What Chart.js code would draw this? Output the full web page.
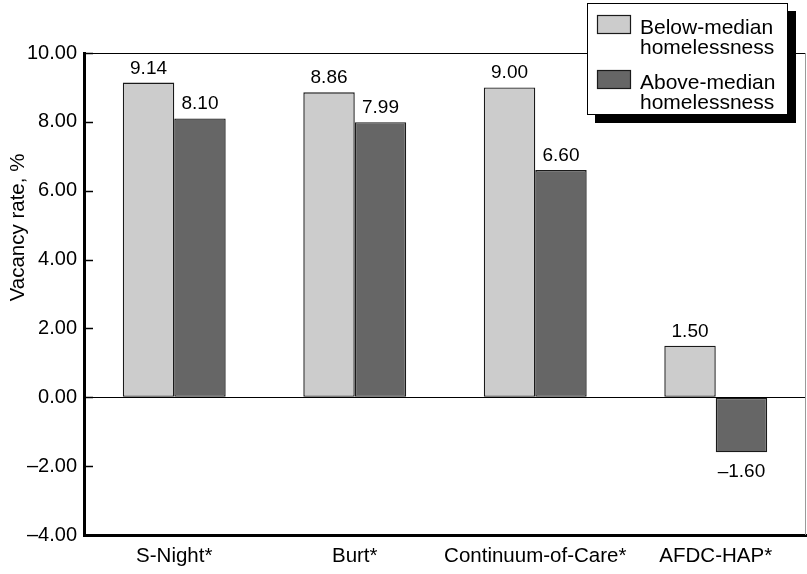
<!DOCTYPE html>
<html><head><meta charset="utf-8">
<script src="https://cdn.jsdelivr.net/npm/chart.js@4"></script>
<style>html,body{margin:0;padding:0;background:#fff}#wrap{width:807px;height:574px}</style>
</head><body><div id="wrap"><canvas id="c" width="807" height="574"></canvas></div>
<script>
const categories = ["S-Night*", "Burt*", "Continuum-of-Care*", "AFDC-HAP*"];
const belowMedian = [9.14, 8.86, 9.00, 1.50];
const aboveMedian = [8.10, 7.99, 6.60, -1.60];
const seriesNames = [["Below-median", "homelessness"], ["Above-median", "homelessness"]];
const yTicks = [-4, -2, 0, 2, 4, 6, 8, 10];
const yTitle = "Vacancy rate, %";

const FONT = "'Liberation Sans', Arial, Helvetica, sans-serif";
const LIGHT = "#cccccc", DARK = "#666666", EDGE = "#1a1a1a";
Chart.defaults.font.family = FONT;
Chart.defaults.color = "#000";

function fmt(v) { return (v < 0 ? "\u2013" : "") + Math.abs(v).toFixed(2); }

const extras = {
  id: "extras",
  afterDraw(chart) {
    const ctx = chart.ctx, a = chart.chartArea, ys = chart.scales.y;
    ctx.save();
    // top and right frame
    ctx.strokeStyle = "#000"; ctx.lineWidth = 1;
    ctx.beginPath(); ctx.moveTo(a.left, a.top + 0.5); ctx.lineTo(a.right, a.top + 0.5); ctx.stroke();
    ctx.strokeStyle = "#9a9a9a";
    ctx.beginPath(); ctx.moveTo(a.right - 0.5, a.top); ctx.lineTo(a.right - 0.5, a.bottom); ctx.stroke();
    // inward ticks
    ctx.strokeStyle = "#000"; ctx.lineWidth = 1.5;
    yTicks.forEach(v => {
      const y = Math.round(ys.getPixelForValue(v)) + 0.5;
      ctx.beginPath(); ctx.moveTo(a.left, y); ctx.lineTo(a.left + 9, y); ctx.stroke();
    });
    // value labels
    ctx.fillStyle = "#000"; ctx.font = "19px " + FONT; ctx.textAlign = "center";
    chart.data.datasets.forEach((ds, di) => {
      chart.getDatasetMeta(di).data.forEach((bar, i) => {
        const v = ds.data[i];
        if (v >= 0) { ctx.textBaseline = "alphabetic"; ctx.fillText(fmt(v), bar.x, bar.y - 9); }
        else { ctx.textBaseline = "top"; ctx.fillText(fmt(v), bar.x, bar.y + 10); }
      });
    });
    // y title
    ctx.save();
    ctx.translate(18, a.top + (a.bottom - a.top) * 0.362);
    ctx.rotate(-Math.PI / 2);
    ctx.textAlign = "center"; ctx.textBaseline = "middle"; ctx.font = "20.5px " + FONT;
    ctx.fillText(yTitle, 0, 0);
    ctx.restore();
    // legend
    const lx = 587, ly = 3, lw = 201, lh = 112;
    ctx.fillStyle = "#000"; ctx.fillRect(lx + 8, ly + 8, lw, lh);
    ctx.fillStyle = "#fff"; ctx.fillRect(lx, ly, lw, lh);
    ctx.strokeStyle = "#000"; ctx.lineWidth = 1;
    ctx.strokeRect(lx + 0.5, ly + 0.5, lw - 1, lh - 1);
    ctx.font = "21px " + FONT; ctx.textAlign = "left"; ctx.textBaseline = "alphabetic";
    chart.data.datasets.forEach((ds, di) => {
      const top = ly + 12 + di * 55;
      ctx.fillStyle = ds.backgroundColor; ctx.fillRect(lx + 10, top, 34, 19);
      ctx.strokeStyle = EDGE; ctx.lineWidth = 1.2; ctx.strokeRect(lx + 10.5, top + 0.5, 33, 18);
      ctx.fillStyle = "#000";
      seriesNames[di].forEach((line, li) => ctx.fillText(line, lx + 53, top + 19 + li * 20));
    });
    ctx.restore();
  }
};

new Chart(document.getElementById("c"), {
  type: "bar",
  data: {
    labels: categories,
    datasets: [
      { label: seriesNames[0].join(" "), data: belowMedian, backgroundColor: LIGHT, borderColor: EDGE, borderWidth: 1.4, borderSkipped: false },
      { label: seriesNames[1].join(" "), data: aboveMedian, backgroundColor: DARK, borderColor: EDGE, borderWidth: 1.4, borderSkipped: false }
    ]
  },
  options: {
    responsive: false,
    devicePixelRatio: 1,
    animation: false,
    categoryPercentage: 0.57,
    barPercentage: 1.0,
    layout: { padding: { top: 53, right: 1, left: 0, bottom: 0 } },
    plugins: { legend: { display: false }, tooltip: { enabled: false } },
    scales: {
      x: {
        grid: { display: false, drawTicks: false },
        border: { display: true, color: "#000", width: 3 },
        ticks: { color: "#000", font: { size: 20.5 }, padding: 9, maxRotation: 0, autoSkip: false },
        afterFit: s => { s.height = 39; }
      },
      y: {
        min: -4, max: 10,
        afterBuildTicks: s => { s.ticks = yTicks.map(v => ({ value: v })); },
        ticks: { callback: v => fmt(v), color: "#000", font: { size: 20 }, padding: 7 },
        grid: { drawTicks: false, lineWidth: 1, color: c => (c.tick && c.tick.value === 0) ? "#000" : "rgba(0,0,0,0)" },
        border: { display: true, color: "#000", width: 3 },
        afterFit: s => { s.width = 84; }
      }
    }
  },
  plugins: [extras]
});
</script></body></html>
